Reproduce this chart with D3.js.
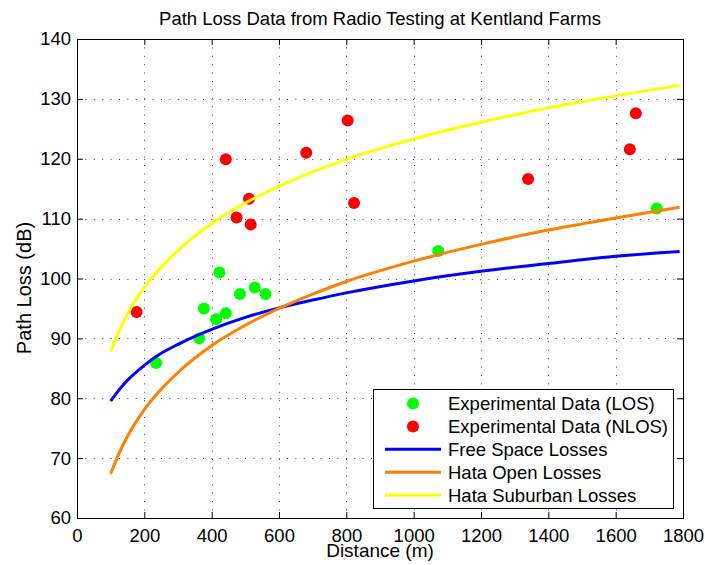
<!DOCTYPE html>
<html>
<head>
<meta charset="utf-8">
<script src="https://cdn.jsdelivr.net/npm/d3@7"></script>
<style>
    body { margin: 0; background: #fff; }
    svg { display: block; }
    text { font-family: "Liberation Sans", Arial, Helvetica, sans-serif; fill: #000; }
</style>
</head>
<body>
<div id="chart"></div>
<script>
    const losDist = [235, 363, 377, 413, 423, 442, 484, 528, 560, 1073, 1722];
    const losLoss = [85.9, 90.0, 95.0, 93.2, 101.0, 94.2, 97.4, 98.5, 97.4, 104.6, 111.7];
    const nlosDist = [177, 442, 474, 511, 516, 681, 804, 823, 1340, 1642, 1660];
    const nlosLoss = [94.4, 119.9, 110.2, 113.3, 109.0, 121.0, 126.4, 112.6, 116.6, 121.6, 127.6];

    // Model curves
    const modelDist = [100, 125, 150, 200, 250, 300, 400, 500, 600, 700, 800, 1000, 1200, 1400, 1600, 1790];
    const freeSpace = [79.5, 81.4, 83.0, 85.5, 87.5, 89.0, 91.5, 93.5, 95.1, 96.4, 97.6, 99.6, 101.2, 102.5, 103.7, 104.5];
    const hataOpen = [67.4, 70.8, 73.65, 78.1, 81.5, 84.3, 88.8, 92.2, 95.0, 97.4, 99.5, 102.9, 105.7, 108.1, 110.1, 111.9];
    const hataSuburban = [87.8, 91.2, 94.05, 98.5, 101.9, 104.7, 109.2, 112.6, 115.4, 117.8, 119.9, 123.3, 126.1, 128.5, 130.5, 132.3];

    const xTicks = [0, 200, 400, 600, 800, 1000, 1200, 1400, 1600, 1800];
    const yTicks = [60, 70, 80, 90, 100, 110, 120, 130, 140];

    const legendItems = [
        { label: "Experimental Data (LOS)", type: "dot", color: "#00ff00" },
        { label: "Experimental Data (NLOS)", type: "dot", color: "#ff0000" },
        { label: "Free Space Losses", type: "line", color: "#0000ff" },
        { label: "Hata Open Losses", type: "line", color: "#ff8000" },
        { label: "Hata Suburban Losses", type: "line", color: "#ffff00" }
    ];

    const width = 705, height = 565;
    const plot = { left: 77, right: 683, top: 39, bottom: 518 };
    const fontSize = 18.5;

    const svg = d3.select("#chart").append("svg")
        .attr("width", width)
        .attr("height", height);

    const x = d3.scaleLinear().domain([0, 1800]).range([plot.left, plot.right]);
    const y = d3.scaleLinear().domain([60, 140]).range([plot.bottom, plot.top]);

    // dotted grid
    const grid = svg.append("g")
        .attr("stroke", "#444")
        .attr("stroke-width", 1)
        .attr("stroke-dasharray", "1,7.4");
    grid.selectAll(".gx").data(xTicks.slice(1, -1)).enter().append("line")
        .attr("x1", d => Math.round(x(d)) + 0.5).attr("x2", d => Math.round(x(d)) + 0.5)
        .attr("y1", plot.top).attr("y2", plot.bottom);
    grid.selectAll(".gy").data(yTicks.slice(1, -1)).enter().append("line")
        .attr("y1", d => Math.round(y(d)) + 0.5).attr("y2", d => Math.round(y(d)) + 0.5)
        .attr("x1", plot.left).attr("x2", plot.right);

    // axes with inward ticks
    function styleAxis(g) {
        g.select(".domain").remove();
        g.selectAll(".tick line").attr("stroke", "#000");
        g.selectAll(".tick text")
            .style("font-size", fontSize + "px")
            .style("font-family", '"Liberation Sans", Arial, sans-serif')
            .attr("fill", "#000");
    }

    svg.append("g")
        .attr("transform", `translate(0,${plot.bottom})`)
        .call(d3.axisBottom(x).tickValues(xTicks).tickFormat(d3.format("d"))
            .tickSizeInner(-6).tickSizeOuter(0).tickPadding(11))
        .call(styleAxis);
    svg.append("g")
        .attr("transform", `translate(${plot.left},0)`)
        .call(d3.axisLeft(y).tickValues(yTicks).tickFormat(d3.format("d"))
            .tickSizeInner(-6).tickSizeOuter(0).tickPadding(6))
        .call(styleAxis);
    svg.append("g")
        .attr("transform", `translate(0,${plot.top})`)
        .call(d3.axisTop(x).tickValues(xTicks).tickSizeInner(-6).tickSizeOuter(0).tickFormat(""))
        .call(styleAxis);
    svg.append("g")
        .attr("transform", `translate(${plot.right},0)`)
        .call(d3.axisRight(y).tickValues(yTicks).tickSizeInner(-6).tickSizeOuter(0).tickFormat(""))
        .call(styleAxis);

    svg.append("rect")
        .attr("x", plot.left + 0.5).attr("y", plot.top + 0.5)
        .attr("width", plot.right - plot.left).attr("height", plot.bottom - plot.top)
        .attr("fill", "none").attr("stroke", "#000").attr("stroke-width", 1);

    // points
    svg.append("g").selectAll("circle").data(losDist).enter().append("circle")
        .attr("cx", d => x(d))
        .attr("cy", (d, i) => y(losLoss[i]))
        .attr("r", 6)
        .attr("fill", "#00ff00");
    svg.append("g").selectAll("circle").data(nlosDist).enter().append("circle")
        .attr("cx", d => x(d))
        .attr("cy", (d, i) => y(nlosLoss[i]))
        .attr("r", 6)
        .attr("fill", "#ff0000");

    // model curves
    const line = d3.line()
        .x(d => x(d[0]))
        .y(d => y(d[1]))
        .curve(d3.curveMonotoneX);

    [[freeSpace, "#0000ff"], [hataOpen, "#ff8000"], [hataSuburban, "#ffff00"]].forEach(([vals, color]) => {
        svg.append("path")
            .datum(modelDist.map((d, i) => [d, vals[i]]))
            .attr("d", line)
            .attr("fill", "none")
            .attr("stroke", color)
            .attr("stroke-width", 3);
    });

    // title and labels
    svg.append("text")
        .attr("x", (plot.left + plot.right) / 2).attr("y", 25)
        .attr("text-anchor", "middle")
        .style("font-size", fontSize + "px")
        .text("Path Loss Data from Radio Testing at Kentland Farms");
    svg.append("text")
        .attr("x", (plot.left + plot.right) / 2).attr("y", 557)
        .attr("text-anchor", "middle")
        .style("font-size", "19px")
        .text("Distance (m)");
    svg.append("text")
        .attr("transform", `translate(31,288) rotate(-90)`)
        .attr("text-anchor", "middle")
        .style("font-size", "20px")
        .text("Path Loss (dB)");

    // legend
    const legend = svg.append("g").attr("transform", "translate(373,389)");
    legend.append("rect")
        .attr("x", 0.5).attr("y", 0.5)
        .attr("width", 300).attr("height", 119)
        .attr("fill", "#fff").attr("stroke", "#000").attr("stroke-width", 1);
    const rows = legend.selectAll(".row").data(legendItems).enter().append("g")
        .attr("transform", (d, i) => `translate(0,${14.5 + i * 22.9})`);
    rows.filter(d => d.type === "dot").append("circle")
        .attr("cx", 40).attr("cy", 0).attr("r", 6)
        .attr("fill", d => d.color);
    rows.filter(d => d.type === "line").append("line")
        .attr("x1", 12).attr("x2", 68).attr("y1", 0).attr("y2", 0)
        .attr("stroke", d => d.color).attr("stroke-width", 3);
    rows.append("text")
        .attr("x", 75).attr("y", 0).attr("dy", "0.35em")
        .style("font-size", fontSize + "px")
        .text(d => d.label);
</script>
</body>
</html>
